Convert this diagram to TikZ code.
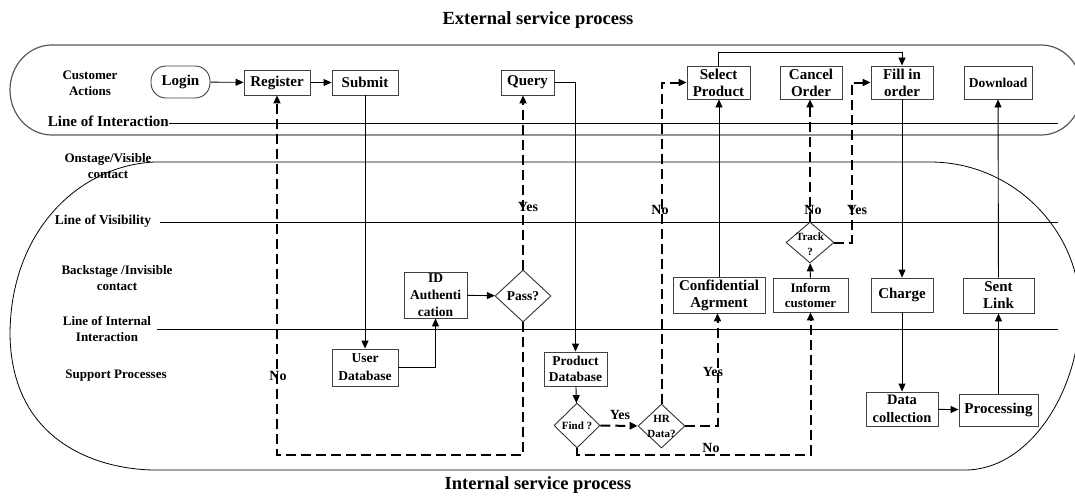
\documentclass[tikz,border=0pt]{standalone}
\usepackage{fontspec}
\setmainfont{Liberation Serif}
\usetikzlibrary{arrows.meta,shapes.geometric}
\tikzset{
  box/.style={draw=black!75, line width=0.9pt, fill=white, align=center, inner sep=0pt},
  dia/.style={diamond, draw=black!80, line width=0.9pt, fill=white, inner sep=0pt},
  fA/.style={font=\bfseries\fontsize{15}{17}\selectfont},
  fB/.style={font=\bfseries\fontsize{13.5}{16.5}\selectfont},
  fC/.style={font=\bfseries\fontsize{11}{15}\selectfont},
  fL/.style={font=\bfseries\fontsize{13}{16}\selectfont, align=center, inner sep=0pt},
  fT/.style={font=\bfseries\fontsize{18.5}{20}\selectfont},
  yn/.style={font=\bfseries\fontsize{14}{16}\selectfont, inner sep=0pt},
  arr/.style={-{Triangle[length=8pt,width=7pt]}, line width=0.9pt},
  darr/.style={-{Triangle[length=8pt,width=7pt]}, line width=2pt, dash pattern=on 10pt off 5pt},
  dline/.style={line width=2pt, dash pattern=on 10pt off 5pt},
  sep/.style={line width=1pt},
  regA/.style={draw=black!65, line width=1.2pt},
  regB/.style={draw=black, line width=0.8pt},
}
\begin{document}
\begin{tikzpicture}[x=1pt,y=-1pt]
\useasboundingbox (0,0) rectangle (1075,495);
\clip (0,0) rectangle (1075,495);

% titles
\node[fT] (ext) at (538,20) {External service process};
\node[fT] (int) at (538,485) {Internal service process};

% regions
\draw[regA] (52,45) -- (1041,45) .. controls (1064,45) and (1082,65) .. (1082,90)
  .. controls (1082,115) and (1064,135) .. (1041,135) -- (52,135)
  .. controls (29,135) and (10,115) .. (10,90) .. controls (10,65) and (29,45) .. (52,45) -- cycle;
\draw[regB] (155,162) -- (930,162) .. controls (1013,162) and (1080,230) .. (1080,310)
  .. controls (1080,390) and (1030,470) .. (965,470) -- (155,470)
  .. controls (110,470) and (12,450) .. (10,335) .. controls (10,230) and (80,165) .. (155,162);

% separator lines
\draw[sep] (169,123) -- (1058,123);
\draw[sep] (160,222) -- (1058,222);
\draw[sep] (157,329) -- (1058,329);

% row labels
\node[fL] (rCA) at (90,83) {Customer\\Actions};
\node[font=\bfseries\fontsize{15}{17}\selectfont, inner sep=0pt, anchor=base east] (rLI) at (169,126) {Line of Interaction};
\node[fL] (rOV) at (108,166) {Onstage/Visible\\contact};
\node[font=\bfseries\fontsize{13.5}{16}\selectfont, inner sep=0pt] (rLV) at (103,221) {Line of Visibility};
\node[fL] (rBI) at (117,278) {Backstage /Invisible\\contact};
\node[fL] (rLII) at (107,329) {Line of Internal\\Interaction};
\node[fL] (rSP) at (116,376) {Support Processes};

% customer actions
\node[box, fA, rounded corners=15pt, minimum width=59, minimum height=32] (login) at (180.5,82) {Login};
\node[box, fA, minimum width=66, minimum height=25] (register) at (277,82.5) {Register};
\node[box, fA, minimum width=66, minimum height=25] (submit) at (365,82.5) {Submit};
\node[box, fA, minimum width=53, minimum height=25] (query) at (527.5,82.5) {Query};
\node[box, fA, minimum width=63, minimum height=33] (select) at (718.5,82.5) {Select\\Product};
\node[box, fA, minimum width=62, minimum height=33] (cancel) at (811,82.5) {Cancel\\Order};
\node[box, fA, minimum width=62, minimum height=33] (fill) at (902,82.5) {Fill in\\order};
\node[box, fB, minimum width=68, minimum height=33] (download) at (998,82.5) {Download};

% backstage
\node[box, font=\bfseries\fontsize{13.5}{17}\selectfont, minimum width=63, minimum height=46] (idauth) at (435.5,295) {ID\\Authenti\\cation};
\node[dia, minimum width=56, minimum height=52] (pass) at (523,296) {};
\node[fB, inner sep=0pt] (passT) at (pass) {Pass?};
\node[box, fA, minimum width=92, minimum height=36] (conf) at (719,295) {Confidential\\Agrment};
\node[box, font=\bfseries\fontsize{13}{15}\selectfont, minimum width=75, minimum height=34] (inform) at (810.5,295) {Inform\\customer};
\node[dia, minimum width=48, minimum height=41] (track) at (810,242.5) {};
\node[fC, inner sep=0pt, align=center] (trackT) at (810,244) {Track\\?};
\node[box, fA, minimum width=62, minimum height=34] (charge) at (902,295) {Charge};
\node[box, fA, minimum width=71, minimum height=35] (sent) at (998.5,295.5) {Sent\\Link};

% support
\node[box, font=\bfseries\fontsize{13.5}{18}\selectfont, minimum width=66, minimum height=37] (userdb) at (365,367.5) {User\\Database};
\node[box, font=\bfseries\fontsize{13.5}{16}\selectfont, minimum width=63, minimum height=34] (proddb) at (575.5,369) {Product\\Database};
\node[dia, minimum width=46, minimum height=45] (find) at (577,425.5) {};
\node[fC, inner sep=0pt] (findT) at (find) {Find ?};
\node[dia, minimum width=47, minimum height=44] (hr) at (661.5,426) {};
\node[fC, inner sep=0pt, align=center] (hrT) at (661.5,426) {HR\\Data?};
\node[box, font=\bfseries\fontsize{14.5}{17.5}\selectfont, minimum width=72, minimum height=34] (datacol) at (902,409) {Data\\collection};
\node[box, fA, minimum width=79, minimum height=32] (proc) at (998.5,410) {Processing};

% corner coordinates
\coordinate (passB) at (523,455);
\coordinate (findB) at (577,455);
\coordinate (hrR) at (717.5,426);
\coordinate (trackR) at (852,242.5);
\coordinate (selTop) at (718.5,52);

% solid connectors
\draw[arr] (login) -- (register);
\draw[arr] (register) -- (submit);
\draw[arr] (select.north) -- (selTop) -| (fill.north);
\draw[arr] (query.east) -| (proddb.north);
\draw[arr] (submit) -- (userdb);
\draw[arr] (userdb.east) -| (idauth.south);
\draw[arr] (idauth) -- (pass);
\draw[arr] (proddb) -- (find);
\draw[arr] (conf.north) -- (conf.north |- select.south);
\draw[arr] (inform) -- (track);
\draw[arr] (fill) -- (charge);
\draw[arr] (charge) -- (datacol);
\draw[arr] (datacol) -- (proc);
\draw[arr] (proc) -- (sent);
\draw[arr] (sent) -- (download);

% dashed connectors
\draw[darr] (pass.north) -- (pass.north |- query.south);
\draw[darr] (pass.south) -- (passB) -| (register.south);
\draw[darr] (find) -- (hr);
\draw[darr] (find.south) -- (findB) -| (inform.south);
\draw[darr] (hr.east) -- (hrR) -- (hrR |- conf.south);
\draw[darr] (hr.north) |- (select.west);
\draw[darr] (track.north) -- (track.north |- cancel.south);
\draw[darr] (track.east) -- (trackR) |- (fill.west);

% yes / no labels
\node[yn] (y1) at (528,207) {Yes};
\node[yn] (n1) at (278,376) {No};
\node[yn] (y2) at (620,415) {Yes};
\node[yn] (y3) at (713,372) {Yes};
\node[yn] (n2) at (711,448) {No};
\node[yn] (n3) at (660,210) {No};
\node[yn] (n4) at (813,210) {No};
\node[yn] (y4) at (857,210) {Yes};
\end{tikzpicture}
\end{document}
